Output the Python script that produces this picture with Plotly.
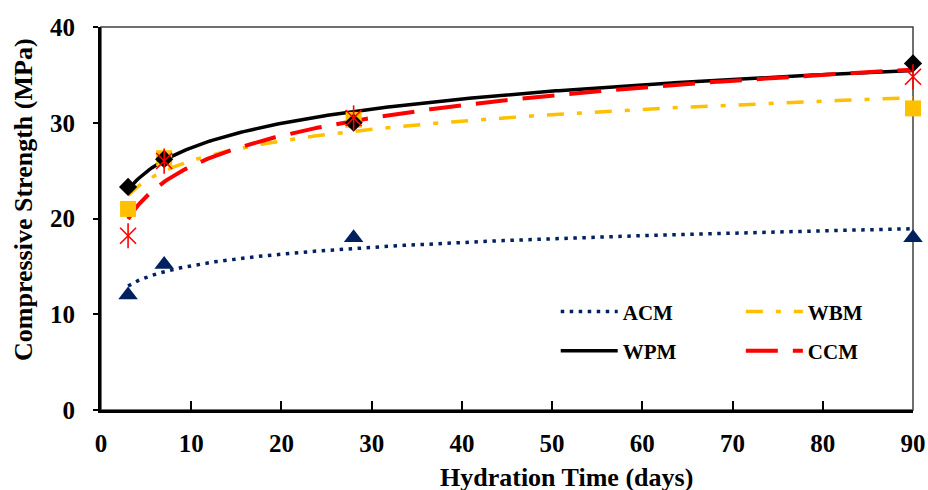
import numpy as np
import plotly.graph_objects as go

# ---------------- data ----------------
days = [3, 7, 28, 90]
series_names = ["ACM", "WBM", "WPM", "CCM"]
acm = [12.0, 15.2, 18.0, 18.0]
wbm = [21.0, 26.3, 30.3, 31.5]
wpm = [23.3, 26.2, 30.0, 36.2]
ccm = [18.2, 26.0, 30.5, 34.8]
x_ticks = [0, 10, 20, 30, 40, 50, 60, 70, 80, 90]
y_ticks = [0, 10, 20, 30, 40]

FONT = "Liberation Serif, Times New Roman, serif"

# style per series
styles = {
    "ACM": dict(color="#002060", dash="3.5px,5.5px", width=3.5, symbol="triangle-up", size=17),
    "WBM": dict(color="#FFC000", dash="17px,13px,5px,13px", width=3.5, symbol="square", size=16),
    "WPM": dict(color="#000000", dash="solid", width=3.5, symbol="diamond", size=14),
    "CCM": dict(color="#FF0000", dash="32px,15px", width=4, symbol="x-thin-open", size=16),
}
values = {"ACM": acm, "WBM": wbm, "WPM": wpm, "CCM": ccm}
legend_of = {"ACM": "legend", "WPM": "legend", "WBM": "legend2", "CCM": "legend2"}

fig = go.Figure()

# logarithmic trendlines (least-squares fit on ln(x), as in the original chart)
xt = np.linspace(min(days), max(days), 300)
for name in series_names:
    st = styles[name]
    a, b = np.polyfit(np.log(days), values[name], 1)
    fig.add_trace(go.Scatter(
        x=xt, y=a * np.log(xt) + b, mode="lines", name=name,
        line=dict(color=st["color"], width=st["width"], dash=st["dash"]),
        legend=legend_of[name], legendgroup=name, hoverinfo="skip",
        cliponaxis=False,
    ))

# markers
for name in series_names:
    st = styles[name]
    if name == "CCM":
        for sym, sz in (("x-thin-open", st["size"]), ("line-ns-open", st["size"] + 2)):
            fig.add_trace(go.Scatter(
                x=days, y=values[name], mode="markers", showlegend=False,
                cliponaxis=False,
                marker=dict(symbol=sym, size=sz, color=st["color"],
                            line=dict(color=st["color"], width=1.6)),
            ))
    else:
        fig.add_trace(go.Scatter(
            x=days, y=values[name], mode="markers", showlegend=False,
            cliponaxis=False,
            marker=dict(symbol=st["symbol"], size=st["size"], color=st["color"],
                        line=dict(width=0)),
        ))

legend_common = dict(
    font=dict(family=FONT, size=21, color="black", weight="bold"),
    bgcolor="rgba(0,0,0,0)", borderwidth=0, orientation="v",
    xanchor="left", yanchor="top", itemwidth=57,
    tracegroupgap=9, traceorder="grouped",
)

fig.update_layout(
    width=928, height=490,
    margin=dict(l=101, r=15, t=27, b=80, autoexpand=False),
    paper_bgcolor="white", plot_bgcolor="white",
    font=dict(family=FONT, color="black"),
    showlegend=True,
    legend=dict(x=0.56, y=0.31, **legend_common),
    legend2=dict(x=0.788, y=0.31, **legend_common),
    xaxis=dict(
        range=[0, 90], tickvals=x_ticks, ticktext=[str(v) for v in x_ticks],
        showgrid=False, zeroline=False, automargin=False,
        showline=True, linecolor="black", linewidth=3,
        ticks="inside", ticklen=9, tickwidth=1.5, tickcolor="black",
        tickfont=dict(family=FONT, size=25, color="black", weight="bold"),
        ticklabelstandoff=9,
    ),
    yaxis=dict(
        range=[0, 40], tickvals=y_ticks, ticktext=[str(v) for v in y_ticks],
        showgrid=False, zeroline=False, automargin=False,
        showline=True, linecolor="black", linewidth=3,
        ticks="outside", ticklen=5, tickwidth=2, tickcolor="black",
        tickfont=dict(family=FONT, size=25, color="black", weight="bold"),
        ticklabelstandoff=13,
    ),
    shapes=[dict(type="rect", xref="paper", yref="paper", x0=0, x1=1, y0=0, y1=1,
                 line=dict(color="#404040", width=1.5), layer="below")],
    annotations=[
        dict(text="Hydration Time (days)", xref="paper", yref="paper",
             x=(566 - 101) / 812, y=(410 - 477) / 383, xanchor="center", yanchor="middle",
             showarrow=False, font=dict(family=FONT, size=26, color="black", weight="bold")),
        dict(text="Compressive Strength (MPa)", xref="paper", yref="paper",
             x=(23 - 101) / 812, y=(410 - 200) / 383, xanchor="center", yanchor="middle",
             textangle=-90, showarrow=False,
             font=dict(family=FONT, size=26, color="black", weight="bold")),
    ],
)

# remove the default page margin so the 928x490 figure fills the window exactly
fig.write_html(
    "out.html",
    config={"displayModeBar": False},
    post_script="document.body.style.margin='0';document.body.style.overflow='hidden';",
)
